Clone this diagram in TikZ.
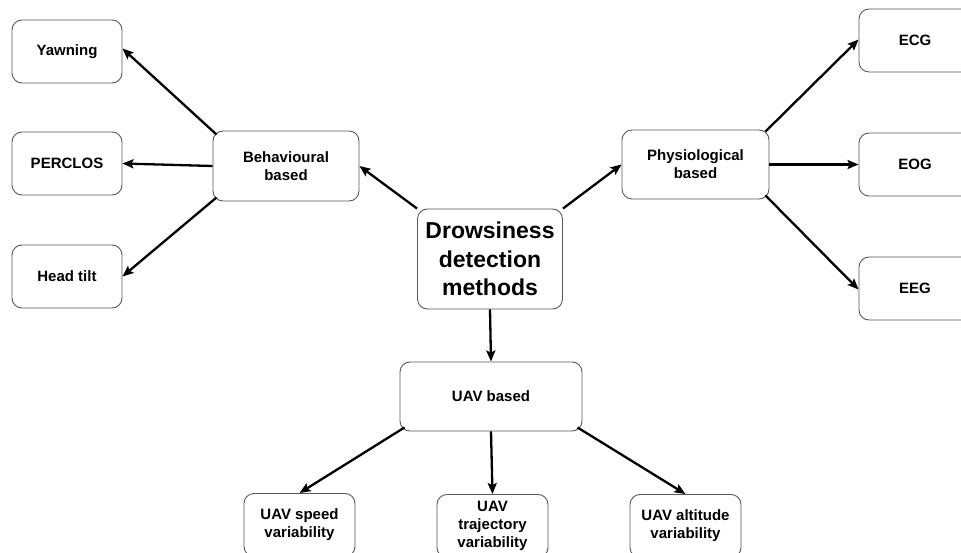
\documentclass[tikz,border=0pt]{standalone}
\usepackage{fontspec}
\setmainfont{Liberation Sans}
\usetikzlibrary{arrows.meta}
\begin{document}
\begin{tikzpicture}[x=1pt,y=-1pt,
  box/.style={draw=black!65, line width=0.9pt, rounded corners=10pt, fill=white,
    inner sep=0pt, align=center, font=\bfseries\fontsize{15}{18}\selectfont},
  arr/.style={line width=2.3pt, draw=black, -{Stealth[length=11pt,width=9pt,inset=2pt]}}
]
\useasboundingbox (0,0) rectangle (961,553);
\clip (0,0) rectangle (961,553);
% nodes
\node[box, minimum width=145pt, minimum height=100pt, font=\bfseries\fontsize{23}{28.5}\selectfont] (dr) at (490,259) {Drowsiness\\detection\\methods};
\node[box, minimum width=146pt, minimum height=70pt] (beh) at (286,166) {Behavioural\\based};
\node[box, minimum width=147pt, minimum height=69pt] (phy) at (695.5,164.5) {Physiological\\based};
\node[box, minimum width=182pt, minimum height=69pt] (uav) at (491,396.5) {UAV based};
\node[box, minimum width=110pt, minimum height=63pt] (yaw) at (67,51.5) {Yawning};
\node[box, minimum width=110pt, minimum height=63pt] (per) at (67,163.5) {PERCLOS};
\node[box, minimum width=110pt, minimum height=63pt] (head) at (67,276.5) {Head tilt};
\node[box, minimum width=112pt, minimum height=63pt] (ecg) at (915,40.5) {ECG};
\node[box, minimum width=112pt, minimum height=63pt] (eog) at (915,164.5) {EOG};
\node[box, minimum width=112pt, minimum height=63pt] (eeg) at (915,288.5) {EEG};
\node[box, minimum width=111pt, minimum height=63pt] (spd) at (299.5,525) {UAV speed\\variability};
\node[box, minimum width=111pt, minimum height=63pt] (trj) at (492.5,526) {UAV\\trajectory\\variability};
\node[box, minimum width=111pt, minimum height=63pt] (alt) at (685.5,526) {UAV altitude\\variability};
% connectors
\draw[arr] (dr.north west) -- (beh.east);
\draw[arr] (dr.north east) -- (phy.west);
\draw[arr] (dr.south) -- (uav.north);
\draw[arr] ([shift={(4,4)}]beh.north west) -- ([yshift=3]yaw.east);
\draw[arr] (beh.west) -- (per.east);
\draw[arr] ([shift={(4,-4)}]beh.south west) -- (head.east);
\draw[arr] ([shift={(-4,2)}]phy.north east) -- ([yshift=1]ecg.west);
\draw[arr] (phy.east) -- (eog.west);
\draw[arr] ([shift={(-4,-4)}]phy.south east) -- ([yshift=-1]eeg.west);
\draw[arr] ([shift={(5,-4)}]uav.south west) -- (spd.north);
\draw[arr] (uav.south) -- (trj.north);
\draw[arr] ([shift={(-5,-4)}]uav.south east) -- (alt.north);
\end{tikzpicture}
\end{document}
